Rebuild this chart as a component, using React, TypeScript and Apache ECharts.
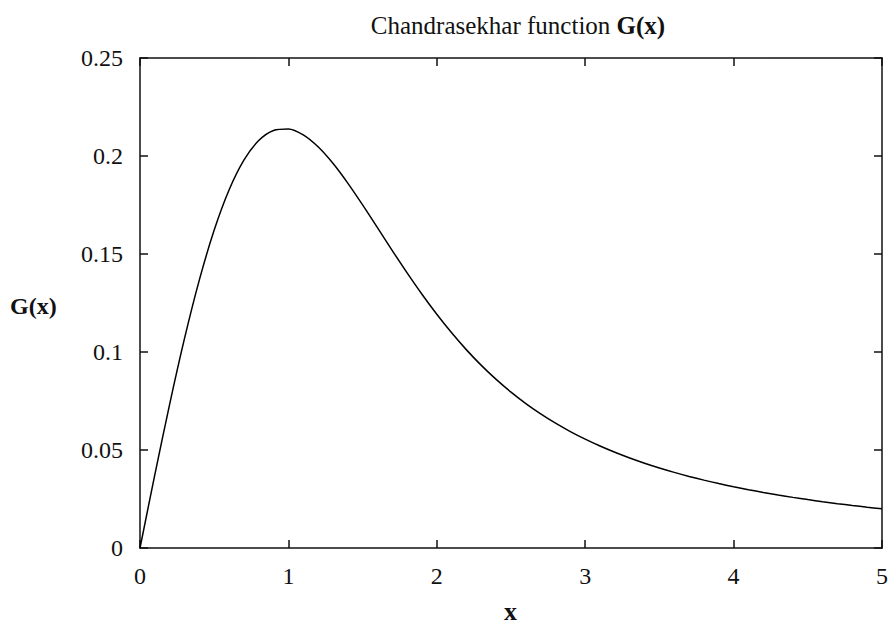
import React, { useEffect, useRef } from "react";
import * as echarts from "echarts";

const xValues = [
  0, 0.1, 0.2, 0.3, 0.4, 0.5, 0.6, 0.7, 0.8, 0.9, 1.0, 1.1, 1.2, 1.3, 1.4, 1.5, 1.6, 1.7, 1.8, 1.9,
  2.0, 2.1, 2.2, 2.3, 2.4, 2.5, 2.6, 2.7, 2.8, 2.9, 3.0, 3.1, 3.2, 3.3, 3.4, 3.5, 3.6, 3.7, 3.8, 3.9,
  4.0, 4.1, 4.2, 4.3, 4.4, 4.5, 4.6, 4.7, 4.8, 4.9, 5.0,
];
const gValues = [
  0, 0.037388, 0.073446, 0.106936, 0.1368, 0.162217, 0.182653, 0.197866, 0.2079, 0.213047, 0.213797,
  0.210776, 0.204688, 0.196254, 0.186165, 0.175047, 0.163434, 0.151762, 0.140362, 0.129473, 0.119249,
  0.109775, 0.101086, 0.093173, 0.086005, 0.079532, 0.073696, 0.068435, 0.063691, 0.059407, 0.055531,
  0.052016, 0.048821, 0.04591, 0.043251, 0.040816, 0.03858, 0.036523, 0.034626, 0.032873, 0.03125,
  0.029744, 0.028345, 0.027042, 0.025826, 0.024691, 0.023629, 0.022635, 0.021701, 0.020825, 0.02,
];
const yTickLabels = ["0", "0.05", "0.1", "0.15", "0.2", "0.25"];
const xTickLabels = ["0", "1", "2", "3", "4", "5"];

const FONT = "'Liberation Serif', 'DejaVu Serif', serif";

export default function App() {
  const ref = useRef<HTMLDivElement>(null);
  useEffect(() => {
    if (!ref.current) return;
    const chart = echarts.init(ref.current, null, { renderer: "svg" });
    const axisLine = { show: true, onZero: false, lineStyle: { color: "#111", width: 1.5 } };
    const tick = { show: true, inside: true, length: 8, lineStyle: { color: "#111", width: 1.5 } };
    chart.setOption({
      animation: false,
      backgroundColor: "#ffffff",
      title: {
        text: "Chandrasekhar function {b|G(x)}",
        left: 513,
        top: 8,
        textAlign: "center",
        textStyle: {
          fontFamily: FONT,
          fontSize: 25,
          fontWeight: "normal",
          color: "#111",
          rich: { b: { fontFamily: FONT, fontSize: 25, fontWeight: "bold", color: "#111" } },
        },
      },
      grid: { left: 140, right: 6, top: 58, bottom: 78, containLabel: false },
      xAxis: [
        {
          type: "value",
          position: "bottom",
          min: 0,
          max: 5,
          interval: 1,
          axisLine,
          axisTick: tick,
          splitLine: { show: false },
          axisLabel: {
            margin: 16,
            fontFamily: FONT,
            fontSize: 24,
            color: "#111",
            formatter: (v: number) => xTickLabels[Math.round(v)] ?? String(v),
          },
        },
        {
          type: "value",
          position: "top",
          min: 0,
          max: 5,
          interval: 1,
          axisLine,
          axisTick: tick,
          splitLine: { show: false },
          axisLabel: { show: false },
        },
      ],
      yAxis: [
        {
          type: "value",
          position: "left",
          min: 0,
          max: 0.25,
          interval: 0.05,
          axisLine,
          axisTick: tick,
          splitLine: { show: false },
          axisLabel: {
            margin: 17,
            fontFamily: FONT,
            fontSize: 24,
            color: "#111",
            formatter: (v: number) => yTickLabels[Math.round(v / 0.05)] ?? String(v),
          },
        },
        {
          type: "value",
          position: "right",
          min: 0,
          max: 0.25,
          interval: 0.05,
          axisLine,
          axisTick: tick,
          splitLine: { show: false },
          axisLabel: { show: false },
        },
      ],
      graphic: [
        {
          type: "text",
          left: 10,
          top: 294,
          style: {
            text: "G(x)",
            font: `bold 24px ${FONT}`,
            fill: "#111",
          },
        },
        {
          type: "text",
          left: 504,
          top: 598,
          style: {
            text: "x",
            font: `bold 26px ${FONT}`,
            fill: "#111",
          },
        },
      ],
      series: [
        {
          type: "line",
          xAxisIndex: 0,
          yAxisIndex: 0,
          data: xValues.map((x, i) => [x, gValues[i]]),
          showSymbol: false,
          smooth: 0.3,
          lineStyle: { color: "#000", width: 1.5 },
        },
      ],
    });
    return () => chart.dispose();
  }, []);
  return (
    <div
      ref={ref}
      style={{ position: "fixed", left: 0, top: 0, width: 891, height: 626, background: "#fff" }}
    />
  );
}
